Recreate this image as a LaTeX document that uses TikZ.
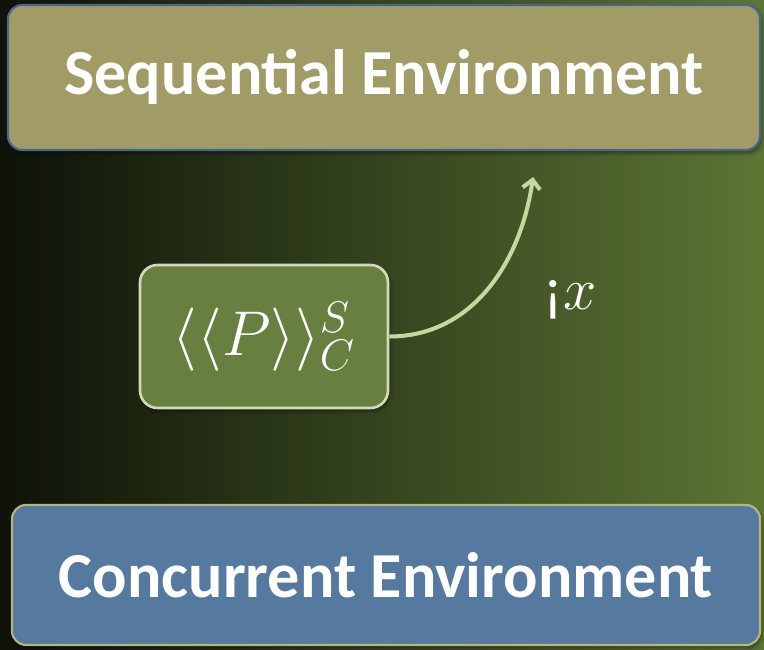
\documentclass[tikz,border=0pt]{standalone}
\usepackage{fix-cm}
\usepackage{fontspec}
\setmainfont{Carlito}
\usepackage{xcolor}
\definecolor{BgDark}{HTML}{0E1208}
\definecolor{BgLight}{HTML}{5C7634}
\definecolor{SeqKhaki}{HTML}{A19B66}
\definecolor{SeqEdge}{HTML}{46658F}
\definecolor{ConcBlue}{HTML}{5679A0}
\definecolor{ConcEdge}{HTML}{B9B47C}
\definecolor{ProcGreen}{HTML}{67803F}
\definecolor{ProcEdge}{HTML}{D3D8BC}
\definecolor{SendArrow}{HTML}{C4D99E}
\usetikzlibrary{arrows.meta,positioning,shadows.blur}

\tikzset{
  envbox/.style={rounded corners=8pt, line width=1.2pt, inner sep=0pt,
    blur shadow={shadow xshift=1pt, shadow yshift=-2pt, shadow blur steps=6},
    text=white, font=\fontsize{36.5}{40}\selectfont\bfseries},
  procbox/.style={rounded corners=10pt, line width=1.5pt, draw=ProcEdge, fill=ProcGreen,
    blur shadow={shadow xshift=1pt, shadow yshift=-2pt, shadow blur steps=6},
    minimum width=4.96cm, minimum height=2.86cm, text=white},
}

\begin{document}
\begin{tikzpicture}
  \useasboundingbox (0,0) rectangle (15.28,13);
  % --- fond degrade ---
  \shade[left color=BgDark, right color=BgLight] (0,0) rectangle (15.28,13);

  % --- environnement sequentiel ---
  \node[envbox, draw=SeqEdge, fill=SeqKhaki, minimum width=15.04cm, minimum height=2.9cm]
    (seqenv) at (7.68,11.45) {Sequential Environment};

  % --- environnement concurrent ---
  \node[envbox, draw=ConcEdge, fill=ConcBlue, minimum width=14.96cm, minimum height=2.8cm]
    (concenv) at (7.72,1.5) {Concurrent Environment};

  % --- processus ---
  \node[procbox] (proc) at (5.28,6.27)
    {\fontsize{36}{40}\selectfont$\langle\langle P\rangle\rangle^{S}_{C}$};

  % --- envoi ---
  \coordinate (sendtip) at (10.66,9.46);
  \draw[SendArrow, line width=2.3pt, -{Straight Barb[length=5pt,width=10pt]}]
    (proc.east) to[out=0, in=-98] (sendtip);
  \node[text=white, font=\fontsize{34}{40}\selectfont] (sendlbl) at (11.4,7.0) {¡$x$};
\end{tikzpicture}
\end{document}
